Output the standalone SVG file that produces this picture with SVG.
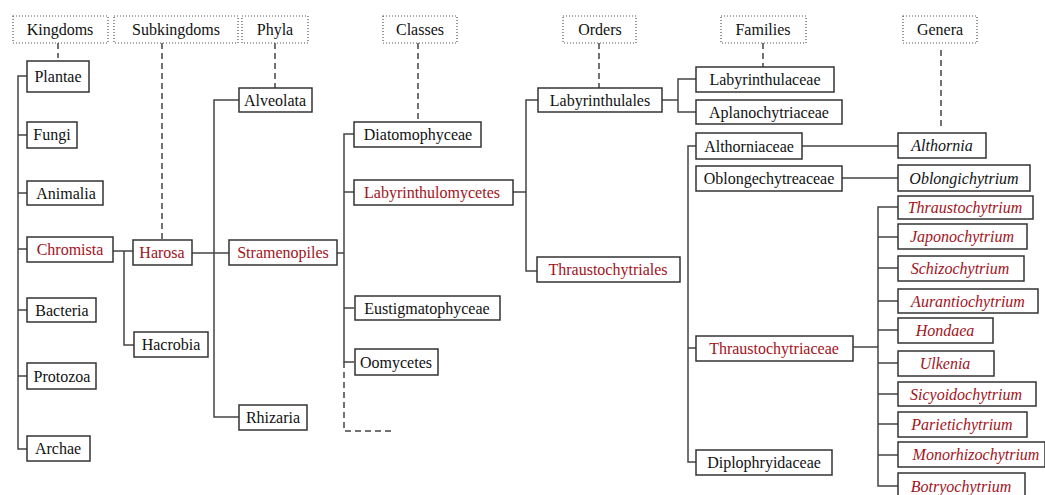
<svg xmlns="http://www.w3.org/2000/svg" width="1045" height="495" viewBox="0 0 1045 495">
<style>
text{font-family:"Liberation Serif","Times New Roman",serif;font-size:16px;fill:#111;text-anchor:middle}
.r{fill:#a3121b}
.i{font-style:italic}
.box{fill:#fff;stroke:#333;stroke-width:1.5}
.hdr{fill:#fff;stroke:#555;stroke-width:1.2;stroke-dasharray:1 2}
.ln{fill:none;stroke:#444;stroke-width:1.5}
.dash{fill:none;stroke:#444;stroke-width:1.5;stroke-dasharray:6 4}
</style>
<rect width="1045" height="495" fill="#fff"/>
<g id="connectors">
<path class="dash" d="M58,43V58M162,43V240M275,43V91M418,43V122M599,43V90M763,43V67M941,50V128"/>
<path class="dash" d="M344,362V431H392"/>
<path class="ln" d="M27,76H18V449H27M18,135H27M18,193H27M18,249H27M18,310H27M18,376H27"/>
<path class="ln" d="M113,251H133M124,251V345H134"/>
<path class="ln" d="M192,253H229M239,100H214V417H239"/>
<path class="ln" d="M337,253H344M354,134H344V362H354M344,192H354M344,308H354"/>
<path class="ln" d="M513,192H526M538,100H526V271H537"/>
<path class="ln" d="M662,100H678M696,79H678V112H696"/>
<path class="ln" d="M696,146H688V462H696M688,348H696"/>
<path class="ln" d="M802,146H898M842,178H898"/>
<path class="ln" d="M853,347H878M898,207H878V486H898M878,237H898M878,268H898M878,301H898M878,330H898M878,363H898M878,394H898M878,424H898M878,455H898"/>
</g>
<g id="headers">
<g id="h-kingdoms"><rect class="hdr" x="13" y="16" width="95" height="27"/><text x="60" y="35">Kingdoms</text></g>
<g id="h-subkingdoms"><rect class="hdr" x="114" y="16" width="124" height="27"/><text x="176" y="35">Subkingdoms</text></g>
<g id="h-phyla"><rect class="hdr" x="242" y="16" width="66" height="27"/><text x="275" y="35">Phyla</text></g>
<g id="h-classes"><rect class="hdr" x="383" y="16" width="74" height="27"/><text x="420" y="35">Classes</text></g>
<g id="h-orders"><rect class="hdr" x="563" y="16" width="73" height="27"/><text x="600" y="35">Orders</text></g>
<g id="h-families"><rect class="hdr" x="721" y="16" width="85" height="27"/><text x="763" y="35">Families</text></g>
<g id="h-genera"><rect class="hdr" x="903" y="16" width="74" height="27"/><text x="940" y="35">Genera</text></g>
</g>
<g id="plantae"><rect class="box" x="27" y="61" width="62" height="31"/><text x="58" y="82">Plantae</text></g>
<g id="fungi"><rect class="box" x="27" y="122" width="50" height="26"/><text x="52" y="140">Fungi</text></g>
<g id="animalia"><rect class="box" x="27" y="181" width="76" height="24"/><text x="66" y="199">Animalia</text></g>
<g id="chromista"><rect class="box" x="27" y="237" width="86" height="25"/><text class="r" x="70" y="255">Chromista</text></g>
<g id="bacteria"><rect class="box" x="27" y="298" width="69" height="24"/><text x="62" y="316">Bacteria</text></g>
<g id="protozoa"><rect class="box" x="27" y="363" width="69" height="26"/><text x="62" y="382">Protozoa</text></g>
<g id="archae"><rect class="box" x="27" y="436" width="63" height="25"/><text x="58" y="454">Archae</text></g>
<g id="harosa"><rect class="box" x="133" y="240" width="59" height="25"/><text class="r" x="162" y="258">Harosa</text></g>
<g id="hacrobia"><rect class="box" x="134" y="332" width="74" height="25"/><text x="171" y="350">Hacrobia</text></g>
<g id="alveolata"><rect class="box" x="239" y="88" width="73" height="24"/><text x="275" y="106">Alveolata</text></g>
<g id="stramenopiles"><rect class="box" x="229" y="240" width="108" height="25"/><text class="r" x="283" y="258">Stramenopiles</text></g>
<g id="rhizaria"><rect class="box" x="239" y="405" width="68" height="25"/><text x="273" y="423">Rhizaria</text></g>
<g id="diatomophyceae"><rect class="box" x="354" y="122" width="127" height="25"/><text x="418" y="140">Diatomophyceae</text></g>
<g id="labyrinthulomycetes"><rect class="box" x="354" y="180" width="159" height="25"/><text class="r" x="432" y="198">Labyrinthulomycetes</text></g>
<g id="eustigmatophyceae"><rect class="box" x="355" y="296" width="145" height="24"/><text x="427" y="314">Eustigmatophyceae</text></g>
<g id="oomycetes"><rect class="box" x="355" y="349" width="83" height="26"/><text x="396" y="368">Oomycetes</text></g>
<g id="labyrinthulales"><rect class="box" x="538" y="88" width="124" height="24"/><text x="600" y="106">Labyrinthulales</text></g>
<g id="thraustochytriales"><rect class="box" x="537" y="257" width="143" height="25"/><text class="r" x="608" y="275">Thraustochytriales</text></g>
<g id="labyrinthulaceae"><rect class="box" x="696" y="67" width="138" height="25"/><text x="765" y="85">Labyrinthulaceae</text></g>
<g id="aplanochytriaceae"><rect class="box" x="696" y="100" width="146" height="24"/><text x="769" y="118">Aplanochytriaceae</text></g>
<g id="althorniaceae"><rect class="box" x="696" y="133" width="106" height="26"/><text x="749" y="152">Althorniaceae</text></g>
<g id="oblongechytreaceae"><rect class="box" x="696" y="166" width="146" height="25"/><text x="769" y="184">Oblongechytreaceae</text></g>
<g id="thraustochytriaceae"><rect class="box" x="696" y="336" width="157" height="25"/><text class="r" x="774" y="354">Thraustochytriaceae</text></g>
<g id="diplophryidaceae"><rect class="box" x="696" y="450" width="136" height="25"/><text x="764" y="468">Diplophryidaceae</text></g>
<g id="althornia"><rect class="box" x="898" y="133" width="88" height="25"/><text class="i" x="942" y="151">Althornia</text></g>
<g id="oblongichytrium"><rect class="box" x="898" y="165" width="132" height="26"/><text class="i" x="964" y="184">Oblongichytrium</text></g>
<g id="thraustochytrium"><rect class="box" x="898" y="196" width="135" height="23"/><text class="i r" x="965" y="213">Thraustochytrium</text></g>
<g id="japonochytrium"><rect class="box" x="898" y="224" width="129" height="25"/><text class="i r" x="962" y="242">Japonochytrium</text></g>
<g id="schizochytrium"><rect class="box" x="898" y="256" width="126" height="25"/><text class="i r" x="960" y="274">Schizochytrium</text></g>
<g id="aurantiochytrium"><rect class="box" x="898" y="289" width="140" height="24"/><text class="i r" x="968" y="307">Aurantiochytrium</text></g>
<g id="hondaea"><rect class="box" x="898" y="318" width="95" height="25"/><text class="i r" x="945" y="336">Hondaea</text></g>
<g id="ulkenia"><rect class="box" x="898" y="351" width="96" height="25"/><text class="i r" x="945" y="369">Ulkenia</text></g>
<g id="sicyoidochytrium"><rect class="box" x="898" y="382" width="138" height="24"/><text class="i r" x="966" y="400">Sicyoidochytrium</text></g>
<g id="parietichytrium"><rect class="box" x="898" y="412" width="129" height="25"/><text class="i r" x="962" y="430">Parietichytrium</text></g>
<g id="monorhizochytrium"><rect class="box" x="898" y="442" width="147" height="25"/><text class="i r" x="976" y="460">Monorhizochytrium</text></g>
<g id="botryochytrium"><rect class="box" x="898" y="473" width="127" height="26"/><text class="i r" x="961" y="492">Botryochytrium</text></g>
</svg>
